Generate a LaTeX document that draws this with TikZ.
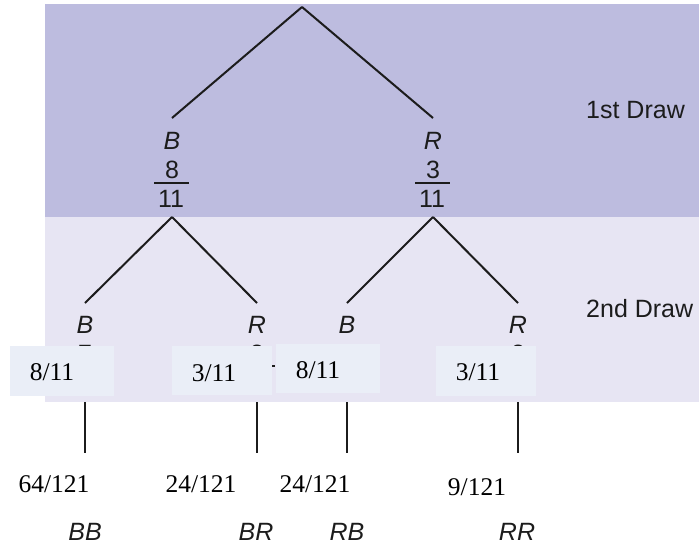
\documentclass[tikz,border=0pt]{standalone}
\usepackage{fontspec}
\setmainfont{Liberation Serif}
\newfontfamily\arialf{Liberation Sans}
\definecolor{topband}{RGB}{189,188,223}
\definecolor{lowband}{RGB}{231,229,243}
\definecolor{boxfill}{RGB}{234,238,247}
\definecolor{ink}{RGB}{28,28,28}
\tikzset{
  sanslbl/.style={font=\arialf\fontsize{25}{30}\selectfont, inner sep=0pt, anchor=base, text=ink},
  itlbl/.style={font=\arialf\itshape\fontsize{25}{30}\selectfont, inner sep=0pt, anchor=base, text=ink},
  serlbl/.style={font=\fontsize{25.5}{30}\selectfont, inner sep=0pt, anchor=base, text=black},
  branch/.style={draw=ink, line width=2pt},
  stem/.style={draw=ink, line width=2.5pt},
  fracbar/.style={draw=ink, line width=1.6pt},
  coverbox/.style={fill=boxfill, draw=none, inner sep=0pt, anchor=north west}
}
\begin{document}
\begin{tikzpicture}[x=1pt, y=-1pt]
\useasboundingbox (0,0) rectangle (699,544);
% bands
\fill[topband] (45,4) rectangle (699,217);
\fill[lowband] (45,217) rectangle (699,402);
\node[sanslbl, anchor=base west] (d1) at (586,118) {1st Draw};
\node[sanslbl, anchor=base west] (d2) at (586,317) {2nd Draw};
% tree coordinates
\coordinate (root) at (302,7);
\coordinate (bA) at (172,118);
\coordinate (rA) at (433,118);
\coordinate (bAs) at (172,217);
\coordinate (rAs) at (433,217);
\coordinate (bb) at (85,303);
\coordinate (br) at (257,303);
\coordinate (rb) at (347,303);
\coordinate (rr) at (518,303);
\draw[branch] (root) -- (bA);
\draw[branch] (root) -- (rA);
\draw[branch] (bAs) -- (bb);
\draw[branch] (bAs) -- (br);
\draw[branch] (rAs) -- (rb);
\draw[branch] (rAs) -- (rr);
% first draw labels
\node[itlbl] (lB) at (172,149) {B};
\node[sanslbl] (nB) at (172,178) {8};
\draw[fracbar] (154,183) -- (189,183);
\node[sanslbl] (dB) at (171,207) {11};
\node[itlbl] (lR) at (433,149) {R};
\node[sanslbl] (nR) at (433,178) {3};
\draw[fracbar] (415,183) -- (450,183);
\node[sanslbl] (dR) at (432,207) {11};
% second draw labels
\node[itlbl] (lBB) at (85,333) {B};
\node[itlbl] (lBR) at (257,333) {R};
\node[itlbl] (lRB) at (347,333) {B};
\node[itlbl] (lRR) at (518,333) {R};
\node[sanslbl] (hBB) at (85,362) {7};
\node[sanslbl] (hBR) at (257,362) {3};
\node[sanslbl] (hRB) at (347,362) {8};
\node[sanslbl] (hRR) at (518,362) {2};
\draw[fracbar] (68,366) -- (102,366);
\draw[fracbar] (240,366) -- (275,366);
\draw[fracbar] (330,366) -- (364,366);
\draw[fracbar] (501,366) -- (535,366);
% cover boxes
\node[coverbox, minimum width=104pt, minimum height=50pt] (box1) at (10,346) {};
\node[coverbox, minimum width=100pt, minimum height=49pt] (box2) at (172,346) {};
\node[coverbox, minimum width=104pt, minimum height=49pt] (box3) at (276,344) {};
\node[coverbox, minimum width=100pt, minimum height=50pt] (box4) at (436,346) {};
\node[serlbl] (t1) at (52,380) {8/11};
\node[serlbl] (t2) at (214,381) {3/11};
\node[serlbl] (t3) at (318,378) {8/11};
\node[serlbl] (t4) at (478,380) {3/11};
% stems
\coordinate (s1a) at (85,402); \coordinate (s1b) at (85,453);
\coordinate (s2a) at (257,402); \coordinate (s2b) at (257,453);
\coordinate (s3a) at (347,402); \coordinate (s3b) at (347,453);
\coordinate (s4a) at (518,402); \coordinate (s4b) at (518,453);
\draw[stem] (s1a) -- (s1b);
\draw[stem] (s2a) -- (s2b);
\draw[stem] (s3a) -- (s3b);
\draw[stem] (s4a) -- (s4b);
% outcome probabilities
\node[serlbl] (p1) at (54,492) {64/121};
\node[serlbl] (p2) at (201,492) {24/121};
\node[serlbl] (p3) at (315,492) {24/121};
\node[serlbl] (p4) at (477,495) {9/121};
% outcome labels
\node[itlbl] (o1) at (85,540) {BB};
\node[itlbl] (o2) at (256,540) {BR};
\node[itlbl] (o3) at (347,540) {RB};
\node[itlbl] (o4) at (517,540) {RR};
\end{tikzpicture}
\end{document}
